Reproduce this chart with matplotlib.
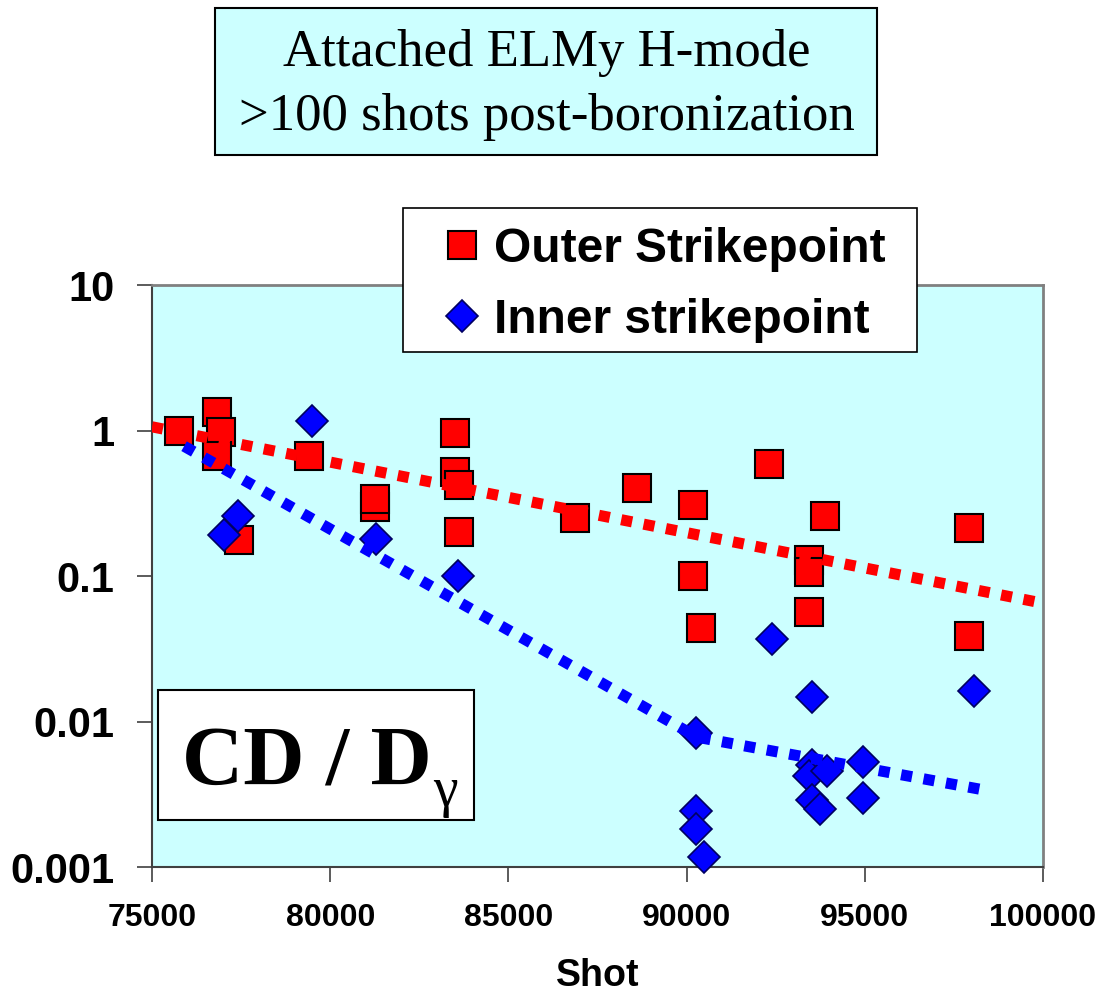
import matplotlib
matplotlib.use("Agg")
import matplotlib.pyplot as plt
from matplotlib.patches import Rectangle

# ---- data ----
outer_shot = [75750, 76820, 76940, 76820, 77430, 79400, 81250, 81250, 83500, 83500,
              83610, 83610, 86870, 88610, 90190, 90190, 90410, 92310, 93880, 93430,
              93430, 93430, 97930, 97930]
outer_val = [1.0, 1.34, 0.97, 0.67, 0.177, 0.67, 0.30, 0.34, 0.96, 0.52,
             0.42, 0.20, 0.25, 0.40, 0.31, 0.10, 0.044, 0.59, 0.26, 0.129,
             0.107, 0.057, 0.215, 0.039]

inner_shot = [79490, 77420, 77020, 81290, 83590, 92400, 93530, 90270, 90270, 90270,
              90500, 93510, 93440, 93950, 93510, 93740, 94960, 94960, 98050]
inner_val = [1.16, 0.26, 0.19, 0.18, 0.10, 0.037, 0.0148, 0.0084, 0.00244, 0.00182,
             0.00118, 0.0050, 0.0042, 0.0046, 0.0029, 0.0025, 0.0053, 0.0030, 0.0163]

outer_trend_shot = [75000, 100000]
outer_trend_val = [1.06, 0.065]
inner_trend_shot = [75900, 90300, 98300]
inner_trend_val = [0.78, 0.0078, 0.0034]

x_ticks = [75000, 80000, 85000, 90000, 95000, 100000]
y_ticks = [0.001, 0.01, 0.1, 1, 10]
y_tick_labels = ["0.001", "0.01", "0.1", "1", "10"]

title_lines = ["Attached ELMy H-mode", ">100 shots post-boronization"]
legend_labels = ["Outer Strikepoint", "Inner strikepoint"]

W, H = 1099, 997
fig = plt.figure(figsize=(W / 100, H / 100), dpi=100)
fig.patch.set_facecolor("white")

def fx(px):
    return px / W

def fy(py):
    return 1 - py / H

ax = fig.add_axes([fx(152), fy(867), fx(1043) - fx(152), fy(285) - fy(867)])
ax.set_facecolor("#CCFFFF")
ax.set_yscale("log")
ax.set_xlim(75000, 100000)
ax.set_ylim(0.001, 10)

sq = ax.plot(outer_shot, outer_val, linestyle="none", marker="s", markersize=19.5,
             markerfacecolor="#FF0000", markeredgecolor="black", markeredgewidth=1.5,
             zorder=3, clip_on=False)[0]
dm = ax.plot(inner_shot, inner_val, linestyle="none", marker="D", markersize=16.5,
             markerfacecolor="#0000FF", markeredgecolor="#000060", markeredgewidth=1.2,
             zorder=4, clip_on=False)[0]

ax.plot(outer_trend_shot, outer_trend_val, color="#FF0000", lw=8,
        linestyle=(0, (1, 1.05)), dash_capstyle="butt", zorder=5)
ax.plot(inner_trend_shot, inner_trend_val, color="#0000FF", lw=8,
        linestyle=(0, (1, 1.05)), dash_capstyle="butt", zorder=5)

ax.set_xticks(x_ticks)
ax.set_xticklabels([str(v) for v in x_ticks], fontfamily="Liberation Sans",
                   fontweight="bold", fontsize=23)
ax.set_yticks(y_ticks)
ax.set_yticklabels(y_tick_labels, fontfamily="Liberation Sans",
                   fontweight="bold", fontsize=30)
ax.minorticks_off()
ax.tick_params(axis="both", direction="out", length=11, width=1.2, color="#404040")
ax.tick_params(axis="x", pad=15)
ax.tick_params(axis="y", pad=16)

for s in ["left", "bottom"]:
    ax.spines[s].set_color("#404040")
    ax.spines[s].set_linewidth(1.5)
for s in ["top", "right"]:
    ax.spines[s].set_color("#808080")
    ax.spines[s].set_linewidth(2)

ax.set_xlabel("Shot", fontfamily="Liberation Sans", fontweight="bold",
              fontsize=27, labelpad=18)

# title box
fig.patches.append(Rectangle((fx(215), fy(155)), fx(877) - fx(215), fy(8) - fy(155),
                             transform=fig.transFigure, facecolor="#CCFFFF",
                             edgecolor="black", linewidth=1.5, zorder=1))
fig.text(fx(547), fy(53), title_lines[0], ha="center", va="center",
         fontfamily="Liberation Serif", fontsize=38, zorder=2)
fig.text(fx(547), fy(117), title_lines[1], ha="center", va="center",
         fontfamily="Liberation Serif", fontsize=38, zorder=2)

# legend box
fig.patches.append(Rectangle((fx(403), fy(352)), fx(917) - fx(403), fy(208) - fy(352),
                             transform=fig.transFigure, facecolor="white",
                             edgecolor="black", linewidth=1.2, zorder=6))
leg = fig.legend([sq, dm], legend_labels, loc="center left",
                 bbox_to_anchor=(fx(436), fy(285)), frameon=False, numpoints=1,
                 prop={"family": "Liberation Sans", "weight": "bold", "size": 34.5},
                 handlelength=1.1, handletextpad=0.12, labelspacing=0.55,
                 borderpad=0.0, borderaxespad=0.0, markerscale=1.0)
leg.set_zorder(7)

# CD / D_gamma box
ax.add_patch(Rectangle((fx(158), fy(820)), fx(474) - fx(158), fy(690) - fy(820),
                       transform=fig.transFigure, facecolor="white",
                       edgecolor="black", linewidth=1.5, zorder=6, clip_on=False))
fig.text(fx(182), fy(786), "CD / D", ha="left", va="baseline",
         fontfamily="Liberation Serif", fontweight="bold", fontsize=61, zorder=7)
fig.text(fx(433), fy(806), "\u03b3", ha="left", va="baseline",
         fontfamily="Liberation Serif", fontsize=40, zorder=7)

fig.savefig("out.png", dpi=100, facecolor="white")
